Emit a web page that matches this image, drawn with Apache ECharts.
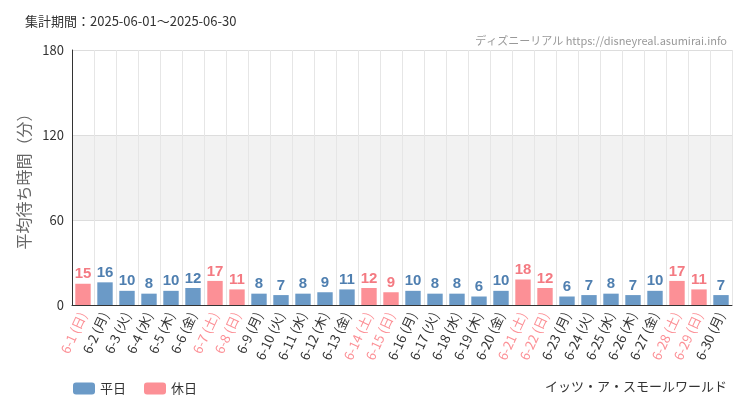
<!DOCTYPE html>
<html><head><meta charset="utf-8">
<style>html,body{margin:0;overflow:hidden;background:#fff}</style>
</head><body>
<div id="c" style="width:750px;height:410px;"></div>
<script src="https://cdn.jsdelivr.net/npm/echarts@6/dist/echarts.min.js"></script>
<script>
var days = ['6-1 (日)','6-2 (月)','6-3 (火)','6-4 (水)','6-5 (木)','6-6 (金)','6-7 (土)','6-8 (日)','6-9 (月)','6-10 (火)','6-11 (水)','6-12 (木)','6-13 (金)','6-14 (土)','6-15 (日)','6-16 (月)','6-17 (火)','6-18 (水)','6-19 (木)','6-20 (金)','6-21 (土)','6-22 (日)','6-23 (月)','6-24 (火)','6-25 (水)','6-26 (木)','6-27 (金)','6-28 (土)','6-29 (日)','6-30 (月)'];
var waits = [15,16,10,8,10,12,17,11,8,7,8,9,11,12,9,10,8,8,6,10,18,12,6,7,8,7,10,17,11,7];
var holidays = [0,6,7,13,14,20,21,27,28];
var blue = '#6b9ac7', pink = '#fc9096';

var weekday = waits.map(function (v, i) { return holidays.indexOf(i) < 0 ? v : null; });
var holiday = waits.map(function (v, i) { return holidays.indexOf(i) >= 0 ? v : null; });
var font = '"Noto Sans CJK JP", sans-serif';
var lbl = function (c) {
  return {show: true, position: 'top', color: c, fontSize: 15, fontFamily: '"Liberation Sans Narrow", sans-serif', fontWeight: 'bold', distance: 2};
};

var chart = echarts.init(document.getElementById('c'));
chart.setOption({
  animation: false,
  textStyle: {fontFamily: font},
  title: [
    {text: '集計期間：2025-06-01～2025-06-30', left: 20, top: 10, textStyle: {fontSize: 13, fontWeight: 'normal', color: '#333'}},
    {text: 'ディズニーリアル https://disneyreal.asumirai.info', right: 18, top: 30, textStyle: {fontSize: 11, fontWeight: 'normal', color: '#999'}},
    {text: 'イッツ・ア・スモールワールド', right: 18, top: 375, textStyle: {fontSize: 13, fontWeight: 'normal', color: '#333'}}
  ],
  legend: {left: 68, top: 377, itemWidth: 22, itemHeight: 12, itemGap: 18, textStyle: {fontSize: 13, color: '#333'},
    data: ['平日', '休日']},
  grid: {left: 72, right: 18, top: 50, bottom: 105},
  xAxis: {type: 'category', data: days,
    axisLine: {lineStyle: {color: '#333'}},
    axisTick: {alignWithLabel: true, lineStyle: {color: '#333'}},
    splitLine: {show: true, lineStyle: {color: '#e6e6e6'}},
    axisLabel: {rotate: 65, interval: 0, fontSize: 13, margin: 8,
      color: function (v, i) { return holidays.indexOf(i) >= 0 ? pink : '#333'; }}},
  yAxis: {type: 'value', min: 0, max: 180, interval: 60,
    name: '平均待ち時間（分）', nameLocation: 'middle', nameGap: 36, nameTextStyle: {fontSize: 16, color: '#666'},
    axisLine: {show: true, lineStyle: {color: '#333'}},
    axisLabel: {fontSize: 13, color: '#333'},
    splitLine: {lineStyle: {color: '#ddd'}},
    splitArea: {show: true, areaStyle: {color: ['#fff', '#f2f2f2']}}},
  series: [
    {name: '平日', type: 'bar', stack: 'a', data: weekday, barWidth: '70%', itemStyle: {color: blue}, label: lbl('#4f7fb0')},
    {name: '休日', type: 'bar', stack: 'a', data: holiday, barWidth: '70%', itemStyle: {color: pink}, label: lbl('#f47a82')}
  ]
});
</script>
</body></html>
